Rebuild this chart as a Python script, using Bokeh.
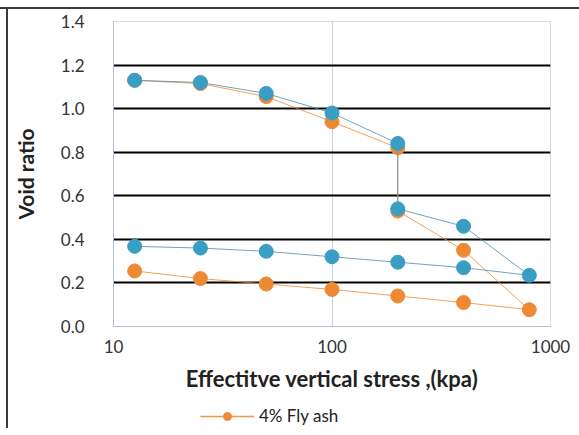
from bokeh.plotting import figure
from bokeh.layouts import column
from bokeh.models import Range1d, FixedTicker, Legend, LegendItem
from bokeh.embed import file_html
from bokeh.resources import INLINE

# Data
stress = [12.5, 25, 50, 100, 200, 200, 400, 800, 400, 200, 100, 50, 25, 12.5]
void_blue = [1.13, 1.12, 1.07, 0.98, 0.84, 0.54, 0.46, 0.235, 0.27, 0.295, 0.32, 0.345, 0.36, 0.368]
void_flyash4 = [1.13, 1.115, 1.055, 0.94, 0.82, 0.53, 0.35, 0.077, 0.11, 0.14, 0.17, 0.195, 0.22, 0.255]
x_ticks = [10, 100, 1000]
y_ticks = [0.0, 0.2, 0.4, 0.6, 0.8, 1.0, 1.2, 1.4]
y_grid = [0.2, 0.4, 0.6, 0.8, 1.0, 1.2]
x_grid = [100]
legend_label = "4% Fly ash"
x_title = "Effectitve vertical stress ,(kpa)"
y_title = "Void ratio"

FONT = "Lato"
BLUE = "#3a9ec4"
ORANGE = "#ef8a34"
EDGE = "#3a3a3a"

p = figure(width=579, height=394, x_axis_type="log",
           x_range=Range1d(10, 1000), y_range=Range1d(0, 1.4),
           output_backend="svg", toolbar_location=None,
           min_border_left=113, min_border_right=29,
           min_border_top=21, min_border_bottom=65)
p.background_fill_color = "white"
p.border_fill_alpha = 0
p.outline_line_color = "#d9d9d9"
p.outline_line_width = 1

# grids
p.ygrid.ticker = FixedTicker(ticks=y_grid)
p.ygrid.grid_line_color = "black"
p.ygrid.grid_line_width = 2
p.xgrid.ticker = FixedTicker(ticks=x_grid)
p.xgrid.grid_line_color = "#c8d2e4"
p.xgrid.grid_line_width = 1

# axes
for ax in (p.xaxis[0], p.yaxis[0]):
    ax.major_tick_line_color = None
    ax.minor_tick_line_color = None
    ax.axis_line_color = "#b4c0d6"
    ax.major_label_text_font = FONT
    ax.major_label_text_font_size = "17px"
    ax.major_label_text_color = "#333333"
    ax.axis_label_text_font = FONT
    ax.axis_label_text_font_style = "bold"
    ax.axis_label_text_color = "#222222"

p.xaxis.ticker = FixedTicker(ticks=x_ticks)
p.xaxis.major_label_overrides = {t: str(t) for t in x_ticks}
p.xaxis.major_label_standoff = 7
p.xaxis.axis_label = x_title
p.xaxis.axis_label_standoff = 9
p.xaxis.axis_label_text_font_size = "22px"

p.yaxis.ticker = FixedTicker(ticks=y_ticks)
p.yaxis.major_label_overrides = {t: f"{t:.1f}" for t in y_ticks}
p.yaxis.major_label_standoff = 23
p.yaxis.axis_label = y_title
p.yaxis.axis_label_standoff = 20
p.yaxis.axis_label_text_font_size = "21px"

# series (orange first, blue on top)
lo = p.line(stress, void_flyash4, line_color=ORANGE, line_width=1, line_alpha=0.8)
so = p.scatter(stress, void_flyash4, size=14, fill_color=ORANGE, line_color=ORANGE)
lb = p.line(stress, void_blue, line_color="#4f8fa8", line_width=1, line_alpha=0.8)
sb = p.scatter(stress, void_blue, size=14, fill_color=BLUE, line_color=BLUE)

# legend strip below the chart (its frame is aligned with the chart's frame)
q = figure(width=579, height=34, output_backend="svg", toolbar_location=None,
           x_axis_location=None, y_axis_location=None,
           min_border=0, min_border_left=0, min_border_right=0,
           min_border_top=0, min_border_bottom=0)
q.grid.visible = False
q.outline_line_color = None
q.background_fill_alpha = 0
q.border_fill_alpha = 0
lo2 = q.line(stress, void_flyash4, line_color=ORANGE, line_width=1.5,
             line_alpha=0.9, visible=False)
so2 = q.scatter(stress, void_flyash4, size=12, fill_color=ORANGE,
                line_color=ORANGE, visible=False)
legend = Legend(items=[LegendItem(label=legend_label, renderers=[lo2, so2])],
                location=(87, 2), orientation="horizontal",
                background_fill_alpha=0, border_line_color=None,
                inactive_fill_alpha=0,
                padding=0, margin=0, glyph_width=54, glyph_height=20,
                label_text_font=FONT, label_text_font_size="17px",
                label_text_color="#222222", label_standoff=5)
q.add_layout(legend, "center")

layout = column(p, q, spacing=0, width=579, height=428)
layout.styles = {
    "overflow": "hidden",
    "background-color": "white",
    "background-image": f"linear-gradient({EDGE},{EDGE}), linear-gradient({EDGE},{EDGE})",
    "background-size": "100% 2px, 2px 100%",
    "background-position": "0px 7px, 6px 7px",
    "background-repeat": "no-repeat",
}

open("out.html", "w").write(file_html(layout, INLINE))
